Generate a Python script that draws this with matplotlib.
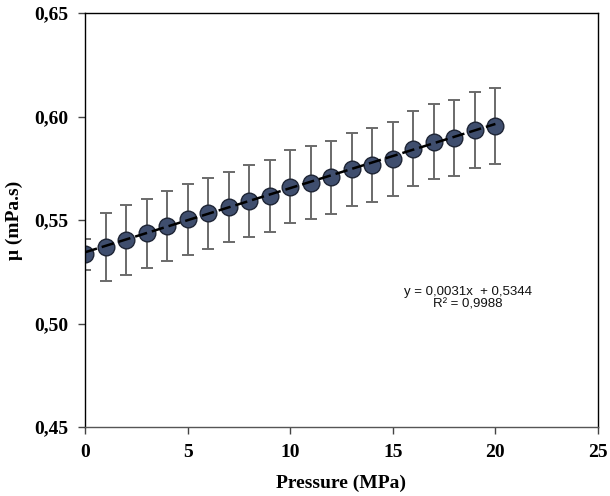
import numpy as np
import matplotlib
matplotlib.use("Agg")
import matplotlib.pyplot as plt

# ---- data ----
pressure = [0, 1, 2, 3, 4, 5, 6, 7, 8, 9, 10, 11, 12, 13, 14, 15, 16, 17, 18, 19, 20]
viscosity = [0.5334, 0.5368, 0.5403, 0.5436, 0.5471, 0.5503, 0.5532, 0.5564, 0.5592, 0.5617,
             0.5661, 0.5680, 0.5706, 0.5745, 0.5766, 0.5795, 0.5845, 0.5877, 0.5896, 0.5935, 0.5954]
viscosity_err = [0.0076, 0.0165, 0.0168, 0.0167, 0.0169, 0.0170, 0.0171, 0.0170, 0.0175, 0.0174,
                 0.0175, 0.0177, 0.0177, 0.0177, 0.0179, 0.0179, 0.0180, 0.0181, 0.0182, 0.0184, 0.0184]
trend_slope = 0.0031
trend_intercept = 0.5344
trend_range = [0, 20]
equation_text = "y = 0,0031x  + 0,5344\nR² = 0,9988"
x_ticks = [0, 5, 10, 15, 20, 25]
x_ticklabels = ["0", "5", "10", "15", "20", "25"]
y_ticks = [0.45, 0.50, 0.55, 0.60, 0.65]
y_ticklabels = ["0,45", "0,50", "0,55", "0,60", "0,65"]
x_label = "Pressure (MPa)"
y_label = "μ (mPa.s)"

# ---- figure ----
fig = plt.figure(figsize=(6.10, 4.96), dpi=100)
ax = fig.add_axes([85/610, 1 - 427/496, (598-85)/610, (427-13)/496])

serif = "Liberation Serif"

eb = ax.errorbar(pressure, viscosity, yerr=viscosity_err, fmt="none",
                 ecolor="#6a6a6a", elinewidth=1.4, capsize=4, capthick=1.4, zorder=1)
for cap in eb[1]:
    cap.set_color("#1a1a1a")

ax.plot(pressure, viscosity, linestyle="none", marker="o", markersize=12,
        markerfacecolor="#3f4e6e", markeredgecolor="#1e2535", markeredgewidth=1.0, zorder=2)

tx = np.array(trend_range, dtype=float)
ax.plot(tx, trend_slope * tx + trend_intercept, color="black", lw=1.8,
        linestyle=(0, (5, 2)), zorder=3)

ax.text(18.67, 0.5124, equation_text, ha="center", va="center",
        fontsize=9.5, family="Liberation Sans", linespacing=1.05, color="#111111")

ax.set_xlim(0, 25)
ax.set_ylim(0.45, 0.65)
ax.set_xticks(x_ticks)
ax.set_xticklabels(x_ticklabels)
ax.set_yticks(y_ticks)
ax.set_yticklabels(y_ticklabels)

for lab in ax.get_xticklabels() + ax.get_yticklabels():
    lab.set_family(serif)
    lab.set_fontweight("bold")
    lab.set_fontsize(14)

ax.tick_params(axis="both", direction="out", length=5, width=1, color="#444444")
ax.tick_params(axis="x", pad=7)
ax.tick_params(axis="y", pad=7)

for s in ax.spines.values():
    s.set_color("black")
    s.set_linewidth(1.0)
ax.spines["bottom"].set_color("#555555")

ax.set_xlabel(x_label, family=serif, fontweight="bold", fontsize=14, labelpad=10)
ax.set_ylabel(y_label, family=serif, fontweight="bold", fontsize=14, labelpad=8)

fig.savefig("out.png", dpi=100, facecolor="white")
